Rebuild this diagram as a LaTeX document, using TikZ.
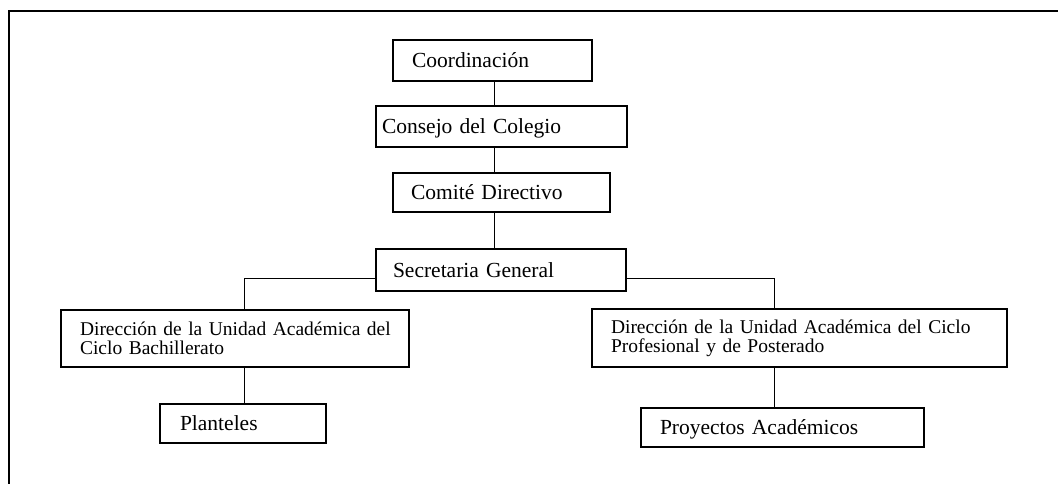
\documentclass[tikz,border=0pt]{standalone}
\usepackage{fontspec}
\setmainfont{Liberation Serif}
\begin{document}
\begin{tikzpicture}[x=1pt,y=-1pt,
  box/.style={draw, line width=1.3pt, inner ysep=0pt, align=left,
    font=\fontsize{19.5}{18.7}\selectfont},
  oneline/.style={text height=14pt, text depth=0pt,
    font=\fontsize{21.5}{22}\selectfont},
  link/.style={line width=1pt}]
\useasboundingbox (0,0) rectangle (1058,484);
% outer frame (top and left edges)
\draw[line width=2pt] (1058,11.5) -- (8.5,11.5) -- (8.5,484);

% upper chain
\node[box, oneline, minimum width=199pt, minimum height=41pt, inner xsep=19pt, text width=161pt] (coord) at (492.5,60.5) {Coordinación};
\node[box, oneline, minimum width=251pt, minimum height=41pt, inner xsep=6pt, text width=239pt] (consejo) at (501.5,126.5) {Consejo del Colegio};
\node[box, oneline, minimum width=217pt, minimum height=39pt, inner xsep=18pt, text width=181pt] (comite) at (501.5,192.5) {Comité Directivo};
\node[box, oneline, minimum width=250pt, minimum height=42pt, inner xsep=17pt, text width=216pt] (secret) at (501,270) {Secretaria General};

% branches
\node[box, minimum width=348pt, minimum height=57pt, inner xsep=19pt, text width=310pt] (dirB) at (235,338.5) {\mbox{Dirección de la Unidad Académica del}\\\mbox{Ciclo Bachillerato}};
\node[box, oneline, minimum width=166pt, minimum height=39pt, inner xsep=20pt, text width=126pt] (plant) at (243,423.5) {Planteles};
\node[box, minimum width=415pt, minimum height=58pt, inner xsep=19pt, text width=377pt] (dirP) at (799.5,338) {\mbox{Dirección de la Unidad Académica del Ciclo}\\\mbox{Profesional y de Posterado}};
\node[box, oneline, minimum width=283pt, minimum height=39pt, inner xsep=19pt, text width=245pt] (proy) at (782.5,427.5) {Proyectos Académicos};

% connectors
\coordinate (trunk) at (494,0);
\coordinate (bl) at (244,278);
\coordinate (br) at (774,278);
\draw[link] (trunk |- coord.south) -- (trunk |- consejo.north);
\draw[link] (trunk |- consejo.south) -- (trunk |- comite.north);
\draw[link] (trunk |- comite.south) -- (trunk |- secret.north);
\draw[link] (secret.west |- bl) -- (bl) -- (bl |- dirB.north);
\draw[link] (secret.east |- br) -- (br) -- (br |- dirP.north);
\draw[link] (bl |- dirB.south) -- (bl |- plant.north);
\draw[link] (br |- dirP.south) -- (br |- proy.north);
\end{tikzpicture}
\end{document}
